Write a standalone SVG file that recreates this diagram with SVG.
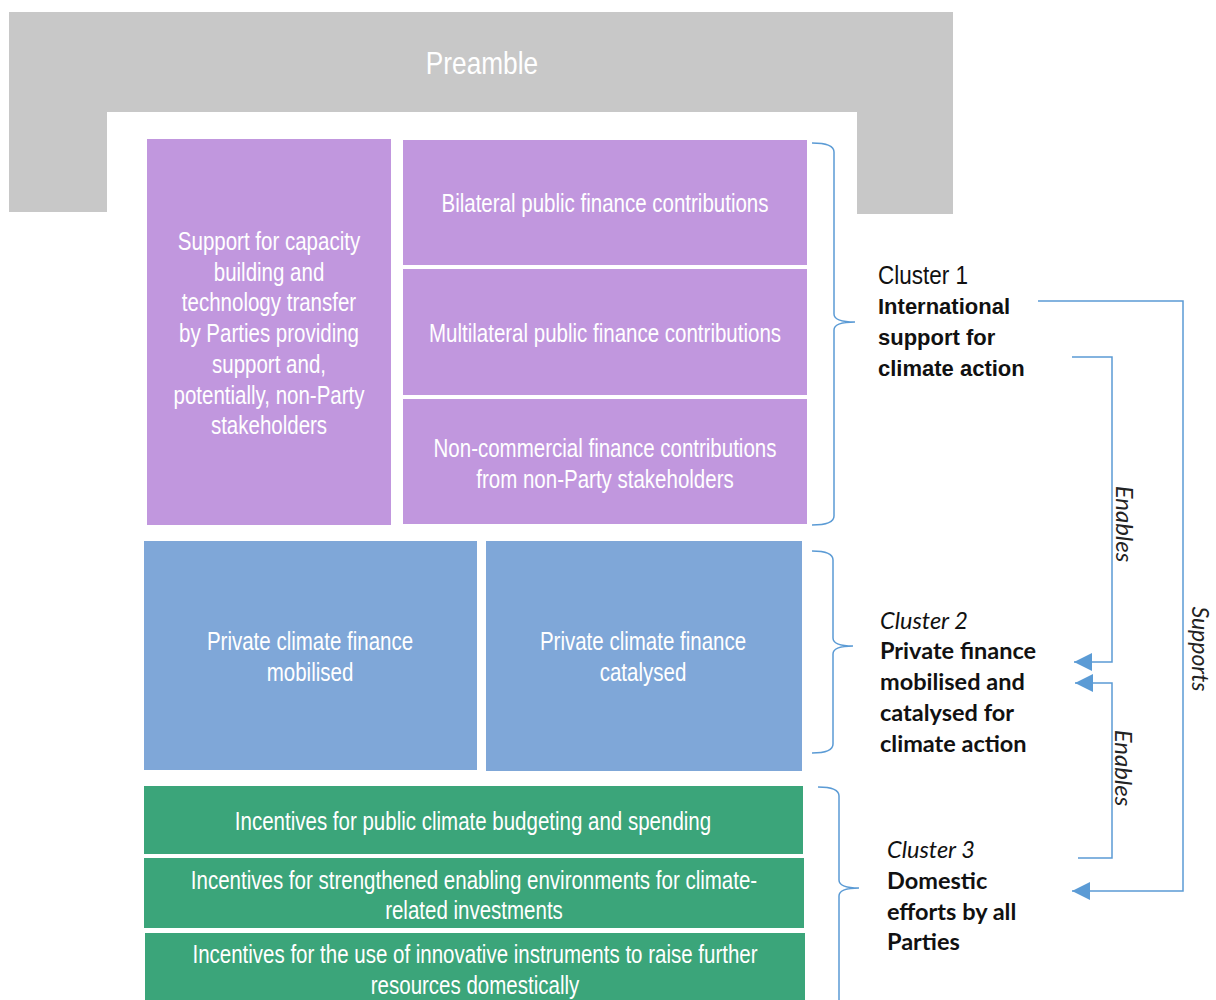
<svg xmlns="http://www.w3.org/2000/svg" width="1216" height="1000" viewBox="0 0 1216 1000">
<defs>
<style>
.box{stroke:none}
.pur{fill:#c197de}
.blu{fill:#7fa7d8}
.grn{fill:#3ba57a}
.bt{font-family:"Liberation Sans",Arial,sans-serif;font-size:25px;fill:#ffffff;text-anchor:middle}
.pre{font-family:"Liberation Sans",Arial,sans-serif;font-size:32px;fill:#ffffff;text-anchor:middle}
.c1{font-family:"Liberation Sans",Arial,sans-serif;font-size:25px;fill:#111111}
.c1b{font-family:"Liberation Sans",Arial,sans-serif;font-size:22px;font-weight:bold;fill:#111111}
.cali{font-family:Lato,"Liberation Sans",sans-serif;font-size:23.5px;font-style:italic;fill:#111111}
.calb{font-family:Lato,"Liberation Sans",sans-serif;font-size:23.5px;font-weight:bold;fill:#111111}
.lab{font-family:Lato,"Liberation Sans",sans-serif;font-size:24px;font-style:italic;fill:#222222;text-anchor:middle}
.brace{fill:none;stroke:#5b9bd5;stroke-width:1.5}
.conn{fill:none;stroke:#5b9bd5;stroke-width:1.5}
</style>
<marker id="arr" viewBox="0 0 18 18" refX="18" refY="9" markerWidth="18" markerHeight="18" markerUnits="userSpaceOnUse" orient="auto">
<path d="M0,0 L18,9 L0,18 z" fill="#5b9bd5"/>
</marker>
</defs>
<rect width="1216" height="1000" fill="#ffffff"/>

<g id="preamble">
<path d="M9,12 H953 V214 H857 V112 H107 V212 H9 Z" fill="#c8c8c8"/>
<g transform="translate(482,0) scale(0.82,1)"><text class="pre" x="0" y="74">Preamble</text></g>
</g>

<g id="n-capacity">
<rect class="box pur" x="147" y="139" width="244" height="386"/>
<g transform="translate(269,0) scale(0.82,1)">
<text class="bt" x="0" y="250">Support for capacity</text>
<text class="bt" x="0" y="281">building and</text>
<text class="bt" x="0" y="311">technology transfer</text>
<text class="bt" x="0" y="342">by Parties providing</text>
<text class="bt" x="0" y="373">support and,</text>
<text class="bt" x="0" y="404">potentially, non-Party</text>
<text class="bt" x="0" y="434">stakeholders</text>
</g>
</g>
<g id="n-bilateral">
<rect class="box pur" x="403" y="140" width="404" height="125"/>
<g transform="translate(605,0) scale(0.82,1)"><text class="bt" x="0" y="212">Bilateral public finance contributions</text></g>
</g>
<g id="n-multilateral">
<rect class="box pur" x="403" y="269" width="404" height="126"/>
<g transform="translate(605,0) scale(0.82,1)"><text class="bt" x="0" y="342">Multilateral public finance contributions</text></g>
</g>
<g id="n-noncommercial">
<rect class="box pur" x="403" y="399" width="404" height="125"/>
<g transform="translate(605,0) scale(0.82,1)">
<text class="bt" x="0" y="457">Non-commercial finance contributions</text>
<text class="bt" x="0" y="488">from non-Party stakeholders</text>
</g>
</g>

<g id="n-mobilised">
<rect class="box blu" x="144" y="541" width="333" height="229"/>
<g transform="translate(310,0) scale(0.82,1)">
<text class="bt" x="0" y="650">Private climate finance</text>
<text class="bt" x="0" y="681">mobilised</text>
</g>
</g>
<g id="n-catalysed">
<rect class="box blu" x="486" y="541" width="316" height="230"/>
<g transform="translate(643,0) scale(0.82,1)">
<text class="bt" x="0" y="650">Private climate finance</text>
<text class="bt" x="0" y="681">catalysed</text>
</g>
</g>

<g id="n-budget">
<rect class="box grn" x="144" y="786" width="659" height="68"/>
<g transform="translate(473,0) scale(0.82,1)"><text class="bt" x="0" y="830">Incentives for public climate budgeting and spending</text></g>
</g>
<g id="n-enabling">
<rect class="box grn" x="144" y="858" width="660" height="70"/>
<g transform="translate(474,0) scale(0.82,1)">
<text class="bt" x="0" y="889">Incentives for strengthened enabling environments for climate-</text>
<text class="bt" x="0" y="919">related investments</text>
</g>
</g>
<g id="n-innovative">
<rect class="box grn" x="145" y="933" width="660" height="70"/>
<g transform="translate(475,0) scale(0.82,1)">
<text class="bt" x="0" y="963">Incentives for the use of innovative instruments to raise further</text>
<text class="bt" x="0" y="994">resources domestically</text>
</g>
</g>

<g id="braces">
<path class="brace" d="M812,143 Q834,143 834,152 V314 Q834,322 855,322 Q834,322 834,330 V516 Q834,525 812,525"/>
<path class="brace" d="M812,551 Q833,551 833,560 V638 Q833,646 853,646 Q833,646 833,654 V744 Q833,753 812,753"/>
<path class="brace" d="M818,787 Q839,787 839,796 V880 Q839,888 859,888 Q839,888 839,896 V1010"/>
</g>

<g id="cluster1">
<g transform="translate(878,0) scale(0.9,1)"><text class="c1" x="0" y="284">Cluster 1</text></g>
<text class="c1b" x="878" y="314">International</text>
<text class="c1b" x="878" y="345">support for</text>
<text class="c1b" x="878" y="376">climate action</text>
</g>
<g id="cluster2">
<text class="cali" x="880" y="629">Cluster 2</text>
<text class="calb" x="880" y="659">Private finance</text>
<text class="calb" x="880" y="690">mobilised and</text>
<text class="calb" x="880" y="721">catalysed for</text>
<text class="calb" x="880" y="752">climate action</text>
</g>
<g id="cluster3">
<text class="cali" x="887" y="858">Cluster 3</text>
<text class="calb" x="887" y="889">Domestic</text>
<text class="calb" x="887" y="920">efforts by all</text>
<text class="calb" x="887" y="950">Parties</text>
</g>

<g id="connectors">
<path class="conn" d="M1038,301 H1183 V891 H1072" marker-end="url(#arr)"/>
<path class="conn" d="M1072,357 H1112 V662 H1074" marker-end="url(#arr)"/>
<path class="conn" d="M1078,858 H1112 V683 H1075" marker-end="url(#arr)"/>
<text class="lab" transform="translate(1116,524) rotate(90)">Enables</text>
<text class="lab" transform="translate(1115,768) rotate(90)">Enables</text>
<text class="lab" style="font-size:23px" transform="translate(1192,649) rotate(90)">Supports</text>
</g>
</svg>
